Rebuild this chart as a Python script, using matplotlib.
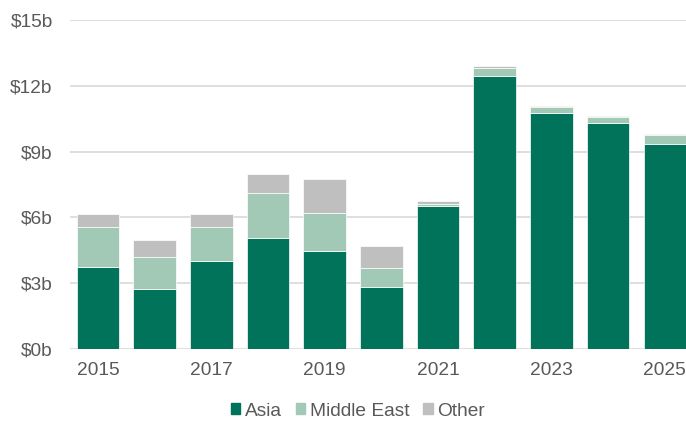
import matplotlib.pyplot as plt
from matplotlib.patches import Patch
import numpy as np

plt.rcParams['font.family'] = ['Liberation Sans', 'DejaVu Sans']

years = [2015, 2016, 2017, 2018, 2019, 2020, 2021, 2022, 2023, 2024, 2025]
asia = [3.76, 2.74, 4.03, 5.07, 4.49, 2.82, 6.50, 12.43, 10.76, 10.31, 9.35]
middle_east = [1.78, 1.47, 1.51, 2.04, 1.73, 0.86, 0.12, 0.40, 0.28, 0.27, 0.41]
other = [0.62, 0.75, 0.62, 0.85, 1.54, 1.01, 0.12, 0.08, 0.06, 0.05, 0.06]
y_ticks = [0, 3, 6, 9, 12, 15]

c_asia = '#00735A'
c_me = '#A2C8B6'
c_other = '#BFBFBF'
txt = '#595959'

fig = plt.figure(figsize=(6.86, 4.23), dpi=100)
ax = fig.add_axes([69.5 / 686, 74 / 423, 623.7 / 686, 329 / 423])

x = np.arange(len(years))
asia = np.array(asia)
middle_east = np.array(middle_east)
other = np.array(other)
w = 0.75
ax.bar(x, asia, w, color=c_asia, edgecolor='white', linewidth=0.5, zorder=3)
ax.bar(x, middle_east, w, bottom=asia, color=c_me, edgecolor='white', linewidth=0.5, zorder=3)
ax.bar(x, other, w, bottom=asia + middle_east, color=c_other, edgecolor='white', linewidth=0.5, zorder=3)

ax.set_xlim(-0.5, 10.5)
ax.set_ylim(0, 15)
ax.set_yticks(y_ticks)
ax.set_yticklabels(['$%db' % v for v in y_ticks])
ax.set_xticks(x[::2])
ax.set_xticklabels([str(y) for y in years[::2]])
ax.yaxis.grid(True, color='#D9D9D9', linewidth=1.2, zorder=0)
ax.set_axisbelow(True)
for s in ax.spines.values():
    s.set_visible(False)
ax.tick_params(axis='y', length=0, pad=12, labelsize=13.8, labelcolor=txt)
ax.tick_params(axis='x', length=0, pad=9, labelsize=13.8, labelcolor=txt)

handles = [Patch(color=c_asia, label='Asia'),
           Patch(color=c_me, label='Middle East'),
           Patch(color=c_other, label='Other')]
fig.legend(handles=handles, loc='center', bbox_to_anchor=(358 / 686, 12 / 423),
           ncol=3, frameon=False, fontsize=13.8, labelcolor=txt,
           handlelength=0.5, handleheight=0.5, handletextpad=0.25, columnspacing=0.7)

fig.savefig('out.png', dpi=100)
